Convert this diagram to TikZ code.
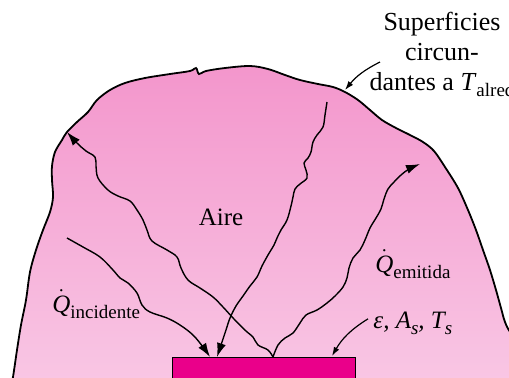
\documentclass[tikz,border=0pt]{standalone}
\usepackage{amsmath}
\usepackage{fontspec}
\setmainfont{Liberation Serif}
\usepackage{tikz}
\usetikzlibrary{arrows.meta, calc}

\definecolor{aireTop}{RGB}{243,150,204}
\definecolor{aireBot}{RGB}{249,200,229}
\definecolor{placa}{RGB}{234,0,138}

\newcommand{\bajo}[1]{\raisebox{-3pt}{\fontsize{9.5}{10}\selectfont #1}}

\tikzset{
  onda/.style={line width=0.7pt, black, -{Latex[length=7pt, width=4.6pt]}},
  guia/.style={line width=0.6pt, black, -{Latex[length=4.5pt, width=3pt]}},
  rotulo/.style={inner sep=0pt, font=\fontsize{12.5}{15}\selectfont},
}

\begin{document}
\begin{tikzpicture}[x=0.5pt, y=-0.5pt]

  \useasboundingbox (0,0) rectangle (509,377);

  % --- Air region (surrounding surfaces) ---
  \filldraw[top color=aireTop, bottom color=aireBot, draw=black, line width=0.9pt]
    plot[smooth, tension=0.55] coordinates {
      (10,392) (13,377) (17,350) (21,325) (26,300) (30,272) (36,250)
      (43,230) (50,212) (53,197) (52,180) (52,166) (55,152) (62,140)
      (67,132) (77,122) (88,112) (97,100) (110,90) (125,83) (145,78)
      (170,74) (190,71) (196,68) (199,74) (206,71) (225,68) (250,66)
      (268,69) (285,75) (300,80) (318,84) (333,87) (345,92) (358,100)
      (370,110) (382,120) (396,128) (410,135) (423,142) (434,151)
      (445,167) (458,188) (468,210) (476,230) (483,250) (490,270)
      (496,290) (501,308) (505,322) (511,333) (525,345)}
    -- (525,392) -- cycle;

  % --- Surface ---
  \node[draw=black, line width=0.6pt, fill=placa, minimum width=91.5pt,
    minimum height=20pt, inner sep=0pt, anchor=north west]
    (placa) at (172,357) {};

  % --- Wave end points ---
  \coordinate (emite) at (273,357);
  \coordinate (llegaA) at (210,357);
  \coordinate (llegaB) at (217,357);
  \coordinate (bordeA) at (67,132);
  \coordinate (bordeB) at (420,164);

  % incident wave from the left
  \draw[onda] plot[smooth, tension=0.6] coordinates {
    (67,238) (83,247) (100,257) (113,270) (120,278) (128,283) (137,293)
    (142,305) (150,312) (167,318) (180,325) (193,335) (203,347) (llegaA)};

  % incident wave from the top
  \draw[onda] plot[smooth, tension=0.6] coordinates {
    (327,102) (325,115) (323,127) (317,135) (313,142) (311,152) (308,158)
    (304,163) (306,170) (307,178) (300,184) (295,189) (293,197) (291,206)
    (287,220) (281,230) (277,238) (274,245) (268,255) (262,266) (257,277)
    (250,286) (243,296) (236,306) (230,318) (226,330) (222,342) (llegaB)};

  % emitted wave to the upper left
  \draw[onda] plot[smooth, tension=0.6] coordinates {
    (emite) (268,350) (258,345) (253,337) (246,331) (234,319) (223,307)
    (213,297) (200,288) (188,280) (181,268) (177,257) (167,250) (152,241)
    (147,230) (143,220) (137,210) (130,201) (118,196) (108,190) (98,178)
    (96,166) (95,157) (86,151) (77,143) (bordeA)};

  % emitted wave to the upper right
  \draw[onda] plot[smooth, tension=0.6] coordinates {
    (emite) (278,345) (285,338) (293,333) (300,323) (306,315) (317,310)
    (327,303) (335,296) (343,287) (347,278) (349,268) (353,258) (360,250)
    (365,240) (370,228) (376,218) (381,209) (384,199) (388,189) (394,182)
    (401,175) (409,169) (bordeB)};

  % --- Labels ---
  \node[rotulo] (aire) at (221,217) {Aire};
  \node[rotulo, anchor=base west] (qinc) at (52,312)
    {$\dot{\textit{Q}}$\bajo{incidente}};
  \node[rotulo, anchor=base west] (qemi) at (375,272)
    {$\dot{\textit{Q}}$\bajo{emitida}};
  \node[rotulo, anchor=base west] (props) at (373,328)
    {\textit{ε, A\bajo{s}, T\bajo{s}}};
  \node[rotulo, font=\fontsize{13}{15}\selectfont, align=center, anchor=north]
    (alred) at (442,12) {Superficies\\circun-\\dantes a \textit{T}\bajo{alred}};

  % --- Leader arrows ---
  \coordinate (bordeC) at (345,90);
  \coordinate (placaC) at (332,356);
  \draw[guia] (380,62) to[bend right=12] (bordeC);
  \draw[guia] ($(props.west)+(-5,-4)$) to[bend right=14] (placaC);

\end{tikzpicture}
\end{document}
